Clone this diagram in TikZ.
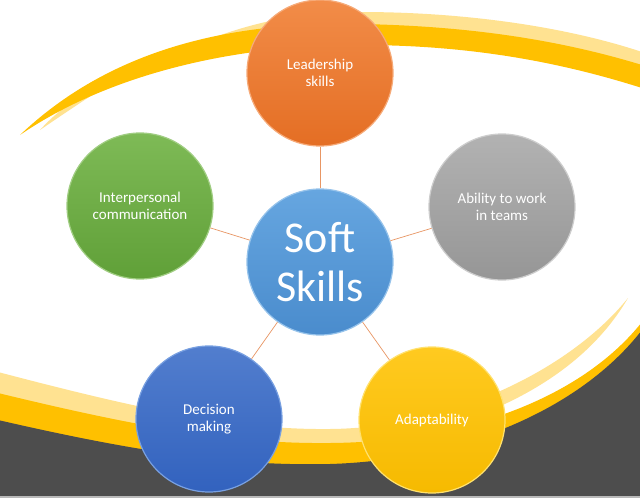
\documentclass[tikz,border=0pt]{standalone}
\usepackage{fontspec}
\setmainfont{Carlito}
\begin{document}
\begin{tikzpicture}[x=1pt,y=-1pt,
  bubble/.style={circle, minimum size=146pt, inner sep=0pt, text=white, align=center,
    font=\fontsize{15}{17}\selectfont, line width=1.2pt},
  link/.style={draw=linkc, line width=0.7pt}]
\definecolor{darkyel}{RGB}{255,192,0}
\definecolor{paleyel}{RGB}{255,226,145}
\definecolor{bggray}{RGB}{77,77,77}
\definecolor{linkc}{RGB}{232,150,100}
\useasboundingbox (0,0) rectangle (640,498);
\fill[white] (0,0) rectangle (640,498);
% top swoosh
\fill[paleyel] (160,60) .. controls (235,25) and (290,12) .. (360,12)
  .. controls (470,12) and (570,28) .. (642,52) -- (642,75)
  .. controls (560,50) and (470,35) .. (360,35)
  .. controls (260,35) and (210,48) .. (160,60) -- cycle;
\fill[paleyel] (40,130) .. controls (60,108) and (80,95) .. (108,85)
  .. controls (84,100) and (62,115) .. (40,130) -- cycle;
\fill[darkyel] (20,135) .. controls (120,40) and (250,22) .. (360,24)
  .. controls (470,26) and (560,40) .. (642,65) -- (642,88)
  .. controls (560,62) and (470,45) .. (360,45)
  .. controls (220,45) and (100,80) .. (20,135) -- cycle;
% bottom bands
\fill[paleyel] (-2,372) .. controls (150,412) and (240,430) .. (330,429)
  .. controls (450,428) and (570,370) .. (628,298)
  .. controls (580,380) and (480,430) .. (340,450) -- (-2,430) -- cycle;
\fill[darkyel] (-2,393) .. controls (150,430) and (240,444) .. (330,443)
  .. controls (460,442) and (580,400) .. (642,322) -- (642,500) -- (-2,500) -- cycle;
\fill[bggray] (-2,420) .. controls (150,455) and (240,466) .. (330,464)
  .. controls (460,460) and (580,410) .. (642,330) -- (642,500) -- (-2,500) -- cycle;
\fill[gray!55] (0,495.5) rectangle (640,498);
% circles
\node[bubble, draw={rgb,255:red,246;green,170;blue,120}, top color={rgb,255:red,242;green,140;blue,72}, bottom color={rgb,255:red,228;green,110;blue,36}] (lead) at (320,73) {Leadership\\skills};
\node[bubble, draw={rgb,255:red,160;green,205;blue,130}, top color={rgb,255:red,126;green,186;blue,86}, bottom color={rgb,255:red,96;green,160;blue,56}] (inter) at (140,206) {Interpersonal\\communication};
\node[bubble, draw={rgb,255:red,205;green,205;blue,205}, top color={rgb,255:red,178;green,178;blue,178}, bottom color={rgb,255:red,150;green,150;blue,150}] (team) at (502,207) {Ability to work\\in teams};
\node[bubble, draw={rgb,255:red,150;green,195;blue,235}, top color={rgb,255:red,102;green,166;blue,224}, bottom color={rgb,255:red,74;green,140;blue,205}, font=\fontsize{44}{49}\selectfont] (soft) at (320,262) {Soft\\Skills};
\node[bubble, draw={rgb,255:red,120;green,160;blue,225}, top color={rgb,255:red,82;green,126;blue,206}, bottom color={rgb,255:red,50;green,98;blue,190}] (dec) at (209,419) {Decision\\making};
\node[bubble, draw={rgb,255:red,255;green,225;blue,110}, top color={rgb,255:red,255;green,202;blue,32}, bottom color={rgb,255:red,246;green,186;blue,0}] (adapt) at (432,420) {Adaptability};
% connectors
\draw[link] (soft) -- (lead);
\draw[link] (soft) -- (inter);
\draw[link] (soft) -- (team);
\draw[link] (soft) -- (dec);
\draw[link] (soft) -- (adapt);
\end{tikzpicture}
\end{document}
